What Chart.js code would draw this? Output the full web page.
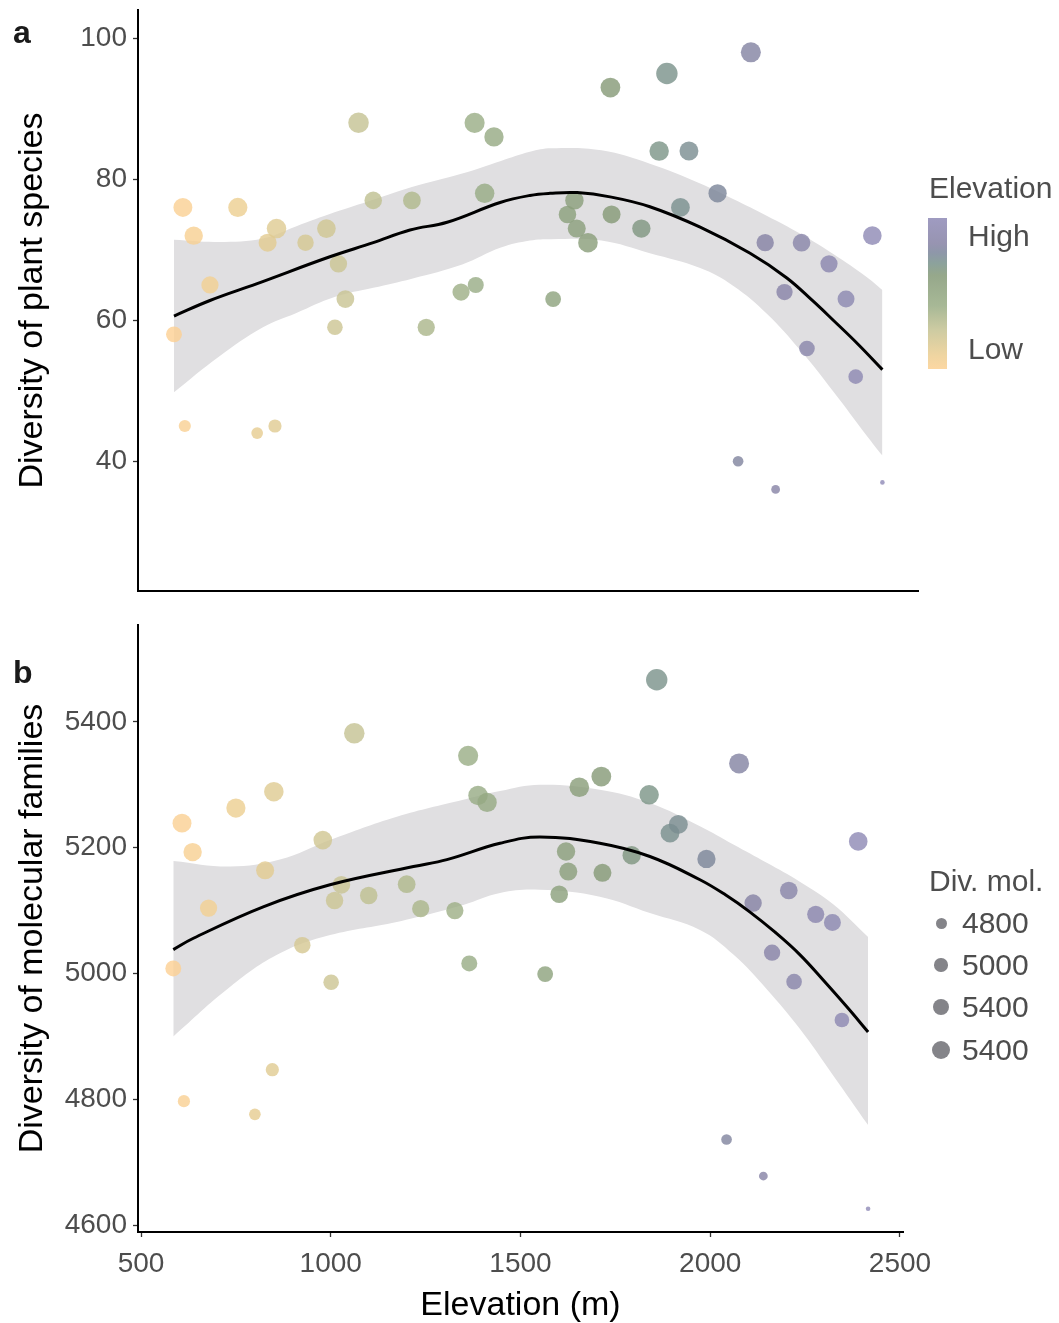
<!DOCTYPE html>
<html>
<head>
<meta charset="utf-8">
<script src="https://cdn.jsdelivr.net/npm/chart.js@4.4.1/dist/chart.umd.min.js"></script>
<style>
  body { margin: 0; background: #fff; width: 1059px; height: 1323px; position: relative; overflow: hidden;
         font-family: "Liberation Sans", Arial, Helvetica, sans-serif; }
  canvas { position: absolute; left: 0; }
  #plantChart { top: -20px; }
  #molChart { top: 595px; }
  .txt { position: absolute; line-height: 1; white-space: nowrap; color: #4d4d4d; }
  .panel { font-weight: bold; font-size: 32px; color: #1a1a1a; }
  .leg { font-size: 30px; }
  #elevBar { position: absolute; left: 928px; top: 218px; width: 19px; height: 151px; }
  .dot { position: absolute; border-radius: 50%; background: rgba(85, 85, 92, 0.72); }
</style>
</head>
<body>
<canvas id="plantChart" width="960" height="641"></canvas>
<canvas id="molChart" width="960" height="728"></canvas>

<div class="txt panel" style="left:13px; top:16px;">a</div>
<div class="txt panel" style="left:13px; top:656px;">b</div>

<div class="txt leg" style="left:929px; top:173px;">Elevation</div>
<div id="elevBar"></div>
<div class="txt leg" style="left:968px; top:221px;">High</div>
<div class="txt leg" style="left:968px; top:334px;">Low</div>

<div class="txt leg" style="left:929px; top:866px;">Div. mol.</div>
<div id="sizeLegend"></div>

<script>
// sites: elevation (m), plant species diversity, molecular family diversity
const elevation = [585, 608, 613, 636, 678, 750, 800, 827, 846, 850, 925, 979, 1001, 1010, 1028, 1062, 1100,
  1200, 1237, 1327, 1362, 1365, 1388, 1412, 1565, 1602, 1620, 1626, 1655, 1713, 1716, 1793, 1839, 1859,
  1894, 1916, 1990, 2043, 2076, 2113, 2140, 2163, 2207, 2221, 2278, 2322, 2347, 2390, 2416];
const plantDiv = [58, 76, 45, 72, 65, 76, 44, 71, 45, 73, 71, 73, 59, 68, 63, 88, 77, 77, 59, 64, 88, 65, 78,
  86, 63, 75, 77, 73, 71, 93, 75, 73, 84, 95, 76, 84, 78, 40, 98, 71, 36, 64, 71, 56, 68, 63, 52, 72, 37];
const molDiv = [5008, 5239, 4797, 5193, 5104, 5263, 4776, 5164, 4847, 5289, 5045, 5212, 4986, 5116, 5141,
  5382, 5124, 5142, 5103, 5100, 5346, 5016, 5283, 5272, 4999, 5126, 5194, 5162, 5296, 5313, 5160, 5188,
  5284, 5467, 5223, 5237, 5182, 4736, 5334, 5112, 4678, 5033, 5132, 4987, 5094, 5081, 4926, 5210, 4626];

// smoothed trend and its confidence band, panel a
const fitElevA = [585, 678, 800, 988, 1100, 1195, 1291, 1428, 1505, 1557, 1627, 1712, 1815, 1945, 2074, 2169, 2237, 2289, 2353, 2416];
const fitA = [60.6, 62.8, 65.2, 69.0, 71.0, 72.8, 73.9, 76.7, 77.7, 78.0, 78.1, 77.5, 76.1, 73.2, 69.5, 66.0, 62.7, 60.0, 56.6, 53.0];
const bandElevA = [585, 700, 815, 900, 1000, 1100, 1200, 1330, 1430, 1505, 1560, 1690, 1815, 1945, 2030, 2118, 2203, 2289, 2376, 2416];
const bandHighA = [71.4, 71.1, 71.6, 73.3, 75.3, 77.1, 78.9, 80.8, 82.6, 83.9, 84.4, 84.1, 82.2, 79.4, 77.2, 74.8, 72.3, 69.4, 66.1, 64.3];
const bandLowA = [49.8, 54.8, 59.0, 61.0, 63.3, 64.6, 65.9, 67.9, 70.3, 71.3, 71.5, 71.3, 69.5, 67.4, 64.9, 60.9, 55.8, 49.9, 43.6, 40.8];

// smoothed trend and its confidence band, panel b
const fitElevB = [585, 638, 822, 998, 1218, 1306, 1446, 1551, 1709, 1841, 1973, 2040, 2104, 2170, 2236, 2300, 2360, 2416];
const fitB = [5038, 5056, 5106, 5141, 5170, 5181, 5207, 5217, 5207, 5186, 5149, 5125, 5098, 5066, 5030, 4988, 4947, 4907];
const bandElevB = [585, 735, 866, 998, 1174, 1349, 1446, 1551, 1709, 1841, 1973, 2061, 2149, 2236, 2324, 2416];
const bandHighB = [5179, 5170, 5181, 5212, 5249, 5276, 5290, 5300, 5292, 5271, 5234, 5205, 5176, 5146, 5110, 5058];
const bandLowB = [4900, 4979, 5032, 5061, 5082, 5109, 5128, 5133, 5122, 5096, 5069, 5030, 4975, 4912, 4838, 4759];

const xTicks = [500, 1000, 1500, 2000, 2500];
const yTicksA = [40, 60, 80, 100];
const yTicksB = [4600, 4800, 5000, 5200, 5400];
const sizeBreaks = ['4800', '5000', '5400', '5400'];

// elevation colour ramp, low (peach) -> high (lavender)
const paletteStops = [
  [0.00, [252, 208, 146]],
  [0.09, [236, 206, 144]],
  [0.26, [196, 194, 146]],
  [0.42, [152, 172, 132]],
  [0.62, [132, 153, 118]],
  [0.70, [120, 145, 138]],
  [0.77, [122, 133, 154]],
  [0.83, [133, 129, 163]],
  [1.00, [142, 137, 182]]
];
const POINT_ALPHA = 0.8;

function rampAt(f) {
  for (let i = 1; i < paletteStops.length; i++) {
    const [f1, c1] = paletteStops[i];
    const [f0, c0] = paletteStops[i - 1];
    if (f <= f1) {
      const t = (f - f0) / (f1 - f0);
      return c0.map((c, k) => Math.round(c + (c1[k] - c) * t));
    }
  }
  return paletteStops[paletteStops.length - 1][1];
}

const eMin = Math.min(...elevation), eMax = Math.max(...elevation);
function elevColor(e) {
  const c = rampAt((e - eMin) / (eMax - eMin));
  return `rgba(${c[0]},${c[1]},${c[2]},${POINT_ALPHA})`;
}

const mMin = Math.min(...molDiv), mMax = Math.max(...molDiv);
function molRadius(v) {
  return 2.3 + 8.4 * Math.sqrt((v - mMin) / (mMax - mMin));
}

function xy(xs, ys) {
  return xs.map((x, i) => ({ x: x, y: ys[i] }));
}

Chart.defaults.font.family = '"Liberation Sans", Arial, Helvetica, sans-serif';

function buildPanel(id, cfg) {
  return new Chart(document.getElementById(id), {
    type: 'scatter',
    data: {
      datasets: [
        { type: 'line', data: xy(cfg.bandX, cfg.bandLo), borderColor: 'transparent', borderWidth: 0,
          pointRadius: 0, fill: false, tension: 0.4, order: 3 },
        { type: 'line', data: xy(cfg.bandX, cfg.bandHi), borderColor: 'transparent', borderWidth: 0,
          pointRadius: 0, fill: '-1', backgroundColor: '#e0dfe1', tension: 0.4, order: 3 },
        { data: xy(elevation, cfg.yVals), pointRadius: molDiv.map(molRadius), pointHoverRadius: molDiv.map(molRadius),
          pointBackgroundColor: elevation.map(elevColor), pointBorderWidth: 0, pointBorderColor: 'transparent', order: 2 },
        { type: 'line', data: xy(cfg.fitX, cfg.fitY), borderColor: '#000', borderWidth: 3, pointRadius: 0,
          fill: false, tension: 0.4, order: 1 }
      ]
    },
    options: {
      responsive: false,
      animation: false,
      devicePixelRatio: 1,
      layout: { padding: { left: 0, right: cfg.padRight, top: cfg.padTop, bottom: 0 } },
      plugins: { legend: { display: false }, tooltip: { enabled: false } },
      scales: {
        x: {
          type: 'linear', min: 492, max: 2508,
          afterBuildTicks: s => { s.ticks = xTicks.map(v => ({ value: v })); },
          afterFit: s => { s.height = cfg.xHeight; },
          ticks: { display: cfg.showX, color: '#4d4d4d', font: { size: 28 }, padding: 10, maxRotation: 0,
                   autoSkip: false, callback: v => String(v) },
          grid: { display: cfg.showX, drawOnChartArea: false, drawTicks: true, tickLength: 5, tickWidth: 1.3, color: '#333' },
          border: { display: true, color: '#000', width: 2 },
          title: { display: cfg.showX, text: 'Elevation (m)', color: '#000', font: { size: 34, lineHeight: 1 },
                   padding: { top: 0, bottom: 0 } }
        },
        y: {
          type: 'linear', min: cfg.yMin, max: cfg.yMax,
          afterBuildTicks: s => { s.ticks = cfg.yTicks.map(v => ({ value: v })); },
          afterFit: s => { s.width = 138; },
          ticks: { color: '#4d4d4d', font: { size: 28 }, padding: 6, callback: v => String(v) },
          grid: { drawOnChartArea: false, drawTicks: true, tickLength: 5, tickWidth: 1.3, color: '#333' },
          border: { display: true, color: '#000', width: 2 },
          title: { display: true, text: cfg.yTitle, color: '#000', font: { size: 34 }, padding: { top: 12, bottom: 0 } }
        }
      }
    }
  });
}

buildPanel('plantChart', {
  yVals: plantDiv, fitX: fitElevA, fitY: fitA, bandX: bandElevA, bandLo: bandLowA, bandHi: bandHighA,
  yMin: 21.6, yMax: 104, yTicks: yTicksA, yTitle: 'Diversity of plant species',
  showX: false, xHeight: 30, padTop: 30, padRight: 42
});

buildPanel('molChart', {
  yVals: molDiv, fitX: fitElevB, fitY: fitB, bandX: bandElevB, bandLo: bandLowB, bandHi: bandHighB,
  yMin: 4589, yMax: 5554, yTicks: yTicksB, yTitle: 'Diversity of molecular families',
  showX: true, xHeight: 91, padTop: 30, padRight: 57
});

// colour bar legend built from the same ramp
const barStops = paletteStops.map(([f, c]) => {
  const p = c.map(v => Math.round(v * 0.85 + 255 * 0.15));
  return `rgb(${p[0]},${p[1]},${p[2]}) ${(100 - f * 100).toFixed(0)}%`;
}).reverse();
document.getElementById('elevBar').style.background = `linear-gradient(to bottom, ${barStops.join(', ')})`;

// size legend
const dotRadii = [5.5, 6.7, 8, 9];
const dotCentres = [923, 965, 1007, 1050];
const sizeLegend = document.getElementById('sizeLegend');
sizeBreaks.forEach((lab, i) => {
  const r = dotRadii[i], cy = dotCentres[i];
  const d = document.createElement('div');
  d.className = 'dot';
  d.style.left = (941 - r) + 'px';
  d.style.top = (cy - r) + 'px';
  d.style.width = d.style.height = (2 * r) + 'px';
  sizeLegend.appendChild(d);
  const t = document.createElement('div');
  t.className = 'txt leg';
  t.style.left = '962px';
  t.style.top = (cy - 15) + 'px';
  t.textContent = lab;
  sizeLegend.appendChild(t);
});
</script>
</body>
</html>
